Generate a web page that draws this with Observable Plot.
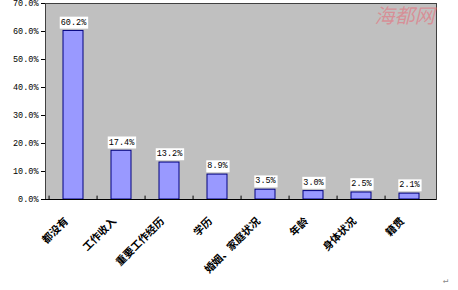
<!DOCTYPE html>
<html><head><meta charset="utf-8">
<script src="https://cdn.jsdelivr.net/npm/d3@7"></script>
<script src="https://cdn.jsdelivr.net/npm/@observablehq/plot@0.6"></script>
<style>body{margin:0;background:#fff}</style>
</head><body><div id="chart"></div>
<script>
const categories = ["都没有","工作收入","重要工作经历","学历","婚姻、家庭状况","年龄","身体状况","籍贯"];
const values = [0.602,0.174,0.132,0.089,0.035,0.030,0.025,0.021];
const yTicks = [0,0.1,0.2,0.3,0.4,0.5,0.6,0.7];
const watermark = "海都网";

const data = categories.map((c,i)=>({c, v: values[i]}));
const W = 458, H = 290, ml = 45, mr = 22, mt = 3, mb = 91;
const step = (W - ml - mr) / categories.length;

const plot = Plot.plot({
  width: W, height: H,
  marginLeft: ml, marginRight: mr, marginTop: mt, marginBottom: mb,
  style: {background: "#fff", fontFamily: "'Liberation Mono', monospace", fontSize: "8px", color: "#000"},
  x: {domain: categories, paddingInner: 0.59, paddingOuter: 0.295, label: null},
  y: {domain: [0, 0.7], label: null},
  marks: [
    Plot.frame({fill: "#c0c0c0", stroke: "#404040"}),
    Plot.axisY({ticks: yTicks, tickFormat: d3.format(".1%"), tickSize: 4, tickPadding: 3, fontSize: 8.5}),
    Plot.axisX({tickSize: 0, tickRotate: -45, tickPadding: 20, fontSize: 10.5,
      fontFamily: "'Noto Sans CJK SC', sans-serif", fontWeight: "bold", dx: -7}),
    Plot.barY(data, {x: "c", y: "v", fill: "#9999ff", stroke: "#000080", strokeWidth: 1}),
    Plot.ruleX(categories, {x: d => d, y1: 0, y2: 0.012, dx: -step/2, stroke: "#000"}),
    Plot.ruleY([0], {stroke: "#000", strokeWidth: 1.2}),
    Plot.text(data, {x: "c", y: "v", text: d => d3.format(".1%")(d.v), dy: -9, fill: "#000",
      fontSize: 8.5, className: "vlab"}),
    Plot.text([watermark], {frameAnchor: "top-right", text: d => d, dx: -32, dy: 5,
      fill: "#e07a85", fillOpacity: 0.7, fontSize: 20, fontStyle: "italic",
      fontFamily: "'Noto Sans CJK SC', sans-serif", textAnchor: "middle"}),
    Plot.text(["↵"], {frameAnchor: "bottom-right", text: d => d, dx: 12, dy: 83,
      fill: "#888", fontSize: 9})
  ]
});
document.getElementById("chart").append(plot);

// white label boxes behind value labels
const g = plot.querySelector("g.vlab") || plot.querySelector(".vlab");
if (g) {
  g.querySelectorAll("text").forEach(t => {
    const b = t.getBBox();
    const r = document.createElementNS("http://www.w3.org/2000/svg", "rect");
    r.setAttribute("x", b.x - 1); r.setAttribute("y", b.y - 1);
    r.setAttribute("width", b.width + 2); r.setAttribute("height", b.height + 2);
    r.setAttribute("fill", "#fff");
    if (t.getAttribute("transform")) r.setAttribute("transform", t.getAttribute("transform"));
    t.parentNode.insertBefore(r, t);
  });
}
</script></body></html>
